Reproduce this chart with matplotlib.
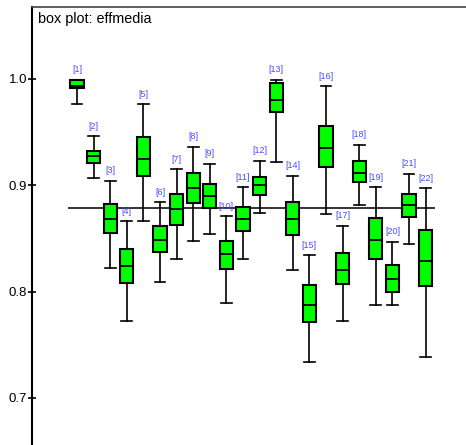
import numpy as np
import matplotlib.pyplot as plt

plt.rcParams['font.family'] = ['Liberation Sans', 'DejaVu Sans']

# valores (effmedia por grupo)
etiquetas = ["[%d]" % i for i in range(1, 23)]
bigote_sup = [0.999, 0.946, 0.904, 0.866, 0.976, 0.884, 0.915, 0.936, 0.920, 0.871, 0.898,
              0.923, 0.999, 0.909, 0.834, 0.993, 0.862, 0.938, 0.898, 0.847, 0.911, 0.897]
q3 = [0.9986, 0.9325, 0.882, 0.840, 0.945, 0.862, 0.892, 0.912, 0.901, 0.848, 0.880,
      0.908, 0.996, 0.884, 0.806, 0.9555, 0.836, 0.923, 0.869, 0.825, 0.892, 0.858]
mediana = [0.9934, 0.9276, 0.868, 0.824, 0.925, 0.849, 0.878, 0.897, 0.890, 0.835, 0.868,
           0.900, 0.980, 0.868, 0.787, 0.935, 0.820, 0.912, 0.849, 0.812, 0.881, 0.829]
q1 = [0.9915, 0.9207, 0.855, 0.808, 0.909, 0.8375, 0.863, 0.883, 0.879, 0.8215, 0.857,
      0.891, 0.969, 0.853, 0.771, 0.917, 0.807, 0.903, 0.831, 0.7996, 0.8705, 0.8056]
bigote_inf = [0.976, 0.907, 0.8225, 0.7726, 0.866, 0.809, 0.831, 0.848, 0.8545, 0.7896, 0.831,
              0.874, 0.922, 0.8206, 0.7335, 0.8727, 0.7726, 0.8815, 0.787, 0.787, 0.8445, 0.7385]
media_global = 0.8786

fig = plt.figure(figsize=(4.66, 4.45), dpi=100)
ax = fig.add_axes([32 / 466, 0.0, 1 - 32 / 466, 1 - 7 / 445])

stats = []
for i in range(len(etiquetas)):
    stats.append({
        "whishi": bigote_sup[i], "q3": q3[i], "med": mediana[i],
        "q1": q1[i], "whislo": bigote_inf[i], "fliers": [], "label": etiquetas[i],
    })

pos = np.arange(1, len(etiquetas) + 1)
ax.bxp(stats, positions=pos, widths=0.8, patch_artist=True, showfliers=False,
       boxprops=dict(facecolor="#00ff00", edgecolor="black", linewidth=1.5),
       medianprops=dict(color="black", linewidth=1.3),
       whiskerprops=dict(color="black", linewidth=1.2),
       capprops=dict(color="black", linewidth=1.2),
       capwidths=0.65)

# linea de la media global
ax.plot([0.5, len(etiquetas) + 0.5], [media_global, media_global], color="#333333", lw=1.4, zorder=1)

for p, lab, top in zip(pos, etiquetas, bigote_sup):
    ax.annotate(lab, (p, top), xytext=(0, 4), textcoords="offset points",
                ha="center", va="bottom", fontsize=6.5, color="#4a4aff")

ax.set_xlim(-1.71, 24.43)
ax.set_ylim(0.6557, 1.0677)
ax.set_yticks([0.7, 0.8, 0.9, 1.0])
ax.set_yticklabels(["0.7", "0.8", "0.9", "1.0"], fontsize=9.5)
ax.set_xticks([])
ax.tick_params(axis="y", direction="inout", length=6, width=1.2, pad=0.5)
ax.spines["right"].set_visible(False)
ax.spines["bottom"].set_visible(False)
ax.spines["left"].set_linewidth(1.5)
ax.spines["top"].set_linewidth(1.2)
ax.spines["top"].set_color("#444444")

ax.text(0.013, 0.988, "box plot: effmedia", transform=ax.transAxes, fontsize=10.4,
        ha="left", va="top")

fig.savefig("out.png", dpi=100)
